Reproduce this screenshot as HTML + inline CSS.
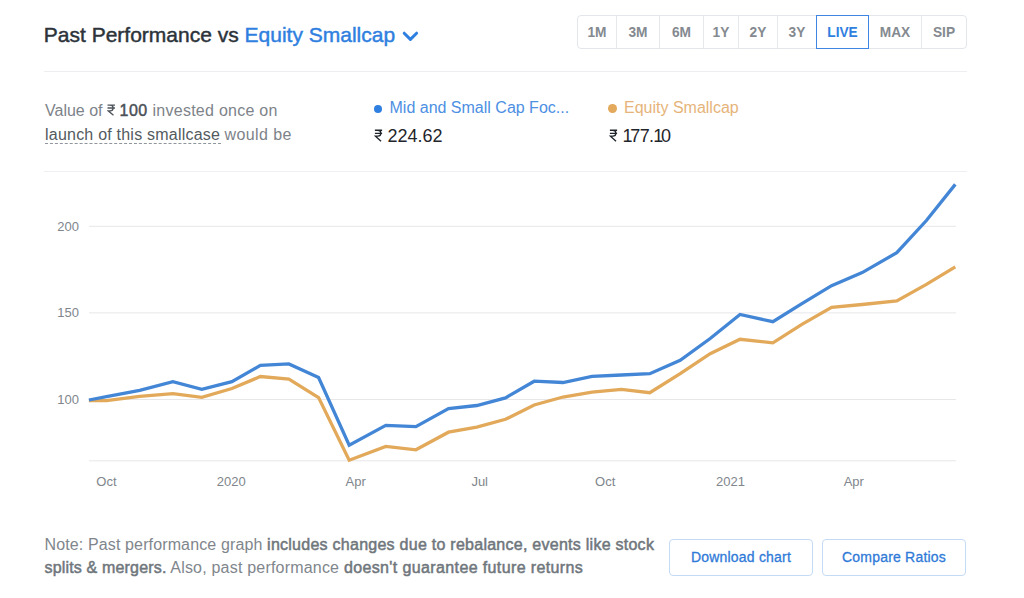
<!DOCTYPE html>
<html><head><meta charset="utf-8"><style>
html,body{margin:0;padding:0;background:#fff;width:1024px;height:598px;overflow:hidden;position:relative;font-family:"Liberation Sans",sans-serif;}
.a{position:absolute;white-space:nowrap;}
.pb{position:absolute;top:24.4px;font-size:15.5px;line-height:15.5px;font-weight:700;transform:scaleX(0.885);color:#848a90;text-align:center;}
.sep{position:absolute;top:16px;width:1px;height:33px;background:#e6e9ec;}
.yl{position:absolute;font-size:13px;line-height:13px;color:#80868c;width:40px;text-align:right;left:39px;}
.xl{position:absolute;font-size:13px;line-height:13px;color:#80868c;top:475px;width:60px;text-align:center;}
.rg{color:#80868c;letter-spacing:0.13px;font-size:16px}
.rg2{letter-spacing:0.2px}
.bd{color:#6f767c;font-size:16px;-webkit-text-stroke:0.5px #6f767c;letter-spacing:0.26px}
.btn{position:absolute;top:539px;height:35px;border:1px solid #c4dbf6;border-radius:4px;font-size:14px;line-height:35px;color:#2f7ad8;text-align:center;-webkit-text-stroke:0.3px #2f7ad8;letter-spacing:0.2px}
</style></head><body>
<div class="a" style="left:43.8px;top:24px;font-size:21px;line-height:21px;color:#2c333a;-webkit-text-stroke:0.45px #2c333a">Past Performance vs <span style="color:#2f7fe0;-webkit-text-stroke:0.45px #2f7fe0">Equity Smallcap</span></div>
<svg class="a" style="left:400px;top:29px" width="20" height="14" viewBox="0 0 20 14"><path d="M4.2 4.2L10.4 10.4L16.6 4.2" fill="none" stroke="#2f7fe0" stroke-width="3" stroke-linecap="round" stroke-linejoin="round"/></svg>

<div class="a" style="left:577px;top:15px;width:388px;height:32px;border:1px solid #e3e6ea;border-radius:4px"></div>
<div class="sep" style="left:616px"></div>
<div class="sep" style="left:659px"></div>
<div class="sep" style="left:703px"></div>
<div class="sep" style="left:738px"></div>
<div class="sep" style="left:777px"></div>
<div class="sep" style="left:921px"></div>
<div class="a" style="left:816px;top:15px;width:51px;height:32px;border:1px solid #3d86e3"></div>
<div class="pb" style="left:577px;width:40px">1M</div>
<div class="pb" style="left:617px;width:42px">3M</div>
<div class="pb" style="left:660px;width:43px">6M</div>
<div class="pb" style="left:704px;width:34px">1Y</div>
<div class="pb" style="left:739px;width:38px">2Y</div>
<div class="pb" style="left:778px;width:38px">3Y</div>
<div class="pb" style="left:817px;width:51px;color:#2f7fe0">LIVE</div>
<div class="pb" style="left:869px;width:52px">MAX</div>
<div class="pb" style="left:922px;width:44px">SIP</div>

<div class="a" style="left:44px;top:71px;width:923px;height:1px;background:#eceef1"></div>

<div class="a" style="left:45px;top:103.2px;font-size:16px;line-height:16px;color:#7d8389">Value of</div>
<svg class="a" style="left:107.2px;top:104px" width="8.5" height="12" viewBox="0 0 10 14"><path d="M0.6 1.2H9.4M0.6 4.7H9.4M1.2 1.2H3.6C5.9 1.2 7.2 2.5 7.2 4.6C7.2 6.6 5.8 8 3.6 8H1.4L7.6 13.3" fill="none" stroke="#4f555b" stroke-width="1.6"/></svg>
<div class="a" style="left:119.6px;top:103.2px;font-size:16px;line-height:16px;color:#4a5056;letter-spacing:0.4px;-webkit-text-stroke:0.45px #4a5056">100</div>
<div class="a" style="left:152.5px;top:103.2px;font-size:16px;line-height:16px;color:#7d8389;letter-spacing:0.26px">invested once on</div>
<div class="a" style="left:45px;top:126.8px;font-size:16px;line-height:16px;color:#535a60;letter-spacing:0.22px">launch of this smallcase</div>
<div class="a" style="left:45px;top:142.5px;width:176px;height:0;border-top:1px dashed #8f959b"></div>
<div class="a" style="left:224.5px;top:126.8px;font-size:16px;line-height:16px;color:#7d8389;letter-spacing:0.4px">would be</div>

<div class="a" style="left:373.5px;top:104.5px;width:8.5px;height:8.5px;border-radius:50%;background:#2f7fe0"></div>
<div class="a" style="left:389.5px;top:99.8px;font-size:16px;line-height:16px;color:#4d8fe3">Mid and Small Cap Foc...</div>
<div class="a" style="left:373.5px;top:126.5px;font-size:18px;line-height:18px;color:#1f252b"><svg width="9" height="13" viewBox="0 0 10 14" style="vertical-align:baseline"><path d="M1 1.2H9M1 4.6H9M1.6 1.2H4.2C6.4 1.2 7.6 2.6 7.6 4.5C7.6 6.4 6.2 7.7 4.2 7.7H1.6L7.8 13.4" fill="none" stroke="#1f252b" stroke-width="1.5" stroke-linejoin="miter"/></svg> 224.62</div>

<div class="a" style="left:608px;top:104.3px;width:8.8px;height:8.8px;border-radius:50%;background:#e3a95c"></div>
<div class="a" style="left:624px;top:99.8px;font-size:16px;line-height:16px;color:#e6b47a">Equity Smallcap</div>
<div class="a" style="left:608.5px;top:126.5px;font-size:18px;line-height:18px;color:#1f252b"><svg width="9" height="13" viewBox="0 0 10 14" style="vertical-align:baseline"><path d="M1 1.2H9M1 4.6H9M1.6 1.2H4.2C6.4 1.2 7.6 2.6 7.6 4.5C7.6 6.4 6.2 7.7 4.2 7.7H1.6L7.8 13.4" fill="none" stroke="#1f252b" stroke-width="1.5" stroke-linejoin="miter"/></svg> <span style="letter-spacing:-0.7px"><span style="letter-spacing:-2.2px">1</span>77.<span style="letter-spacing:-2.2px">1</span>0</span></div>

<div class="a" style="left:44px;top:171px;width:923px;height:1px;background:#edeff2"></div>

<svg class="a" style="left:0;top:0" width="1024" height="598">
<g stroke="#e7e7ea" stroke-width="1">
<line x1="89" y1="226.3" x2="956" y2="226.3"/>
<line x1="89" y1="312.9" x2="956" y2="312.9"/>
<line x1="89" y1="399.5" x2="956" y2="399.5"/>
<line x1="89" y1="460.8" x2="956" y2="460.8"/>
</g>
<polyline points="88.9,400.5 106.5,400.7 139.7,396.4 172.9,393.6 201.8,397.3 231.9,388.5 260.4,376.5 288.9,379.0 318.6,397.6 349.2,460.2 385.8,446.4 415.9,449.8 448.5,432.2 476.8,427.2 505.5,419.3 534.2,405.0 563.0,397.0 592.0,392.2 621.5,389.3 649.8,392.7 680.2,373.6 710.2,353.7 740.0,339.3 772.9,342.9 801.5,324.6 831.6,307.4 862.2,304.5 896.8,300.9 926.4,284.4 955.3,266.9" fill="none" stroke="#e2a95a" stroke-width="3.3" stroke-linejoin="miter"/>
<polyline points="88.9,400.0 106.5,396.7 139.7,390.4 172.9,381.6 201.8,389.4 231.9,381.6 260.4,365.4 288.9,363.9 318.6,377.5 349.2,445.3 385.8,425.4 415.9,426.7 448.5,408.5 476.8,405.5 505.5,397.9 534.2,381.2 563.0,382.5 592.0,376.4 621.5,375.0 649.8,373.7 680.2,360.3 710.2,338.5 740.0,314.5 772.9,321.7 801.5,303.8 831.6,285.7 862.2,272.6 896.8,252.7 926.4,220.5 955.3,184.4" fill="none" stroke="#4386d6" stroke-width="3.3" stroke-linejoin="miter"/>
</svg>
<div class="yl" style="top:219.7px">200</div>
<div class="yl" style="top:305.8px">150</div>
<div class="yl" style="top:392.7px">100</div>
<div class="xl" style="left:76.4px">Oct</div>
<div class="xl" style="left:201.2px">2020</div>
<div class="xl" style="left:325.7px">Apr</div>
<div class="xl" style="left:449.7px">Jul</div>
<div class="xl" style="left:575.2px">Oct</div>
<div class="xl" style="left:700.5px">2021</div>
<div class="xl" style="left:823.8px">Apr</div>

<div class="a" style="left:44.5px;top:536.8px;font-size:15.5px;line-height:15.5px"><span class="rg">Note: Past performance graph </span><span class="bd">includes changes due to rebalance, events like stock</span></div>
<div class="a" style="left:44.5px;top:559.5px;font-size:15.5px;line-height:15.5px"><span class="bd" style="letter-spacing:0.17px">splits &amp; mergers.</span><span class="rg rg2"> Also, past performance </span><span class="bd" style="letter-spacing:0.38px">doesn't guarantee future returns</span></div>

<div class="btn" style="left:669px;width:142px">Download chart</div>
<div class="btn" style="left:822px;width:142px">Compare Ratios</div>
</body></html>
